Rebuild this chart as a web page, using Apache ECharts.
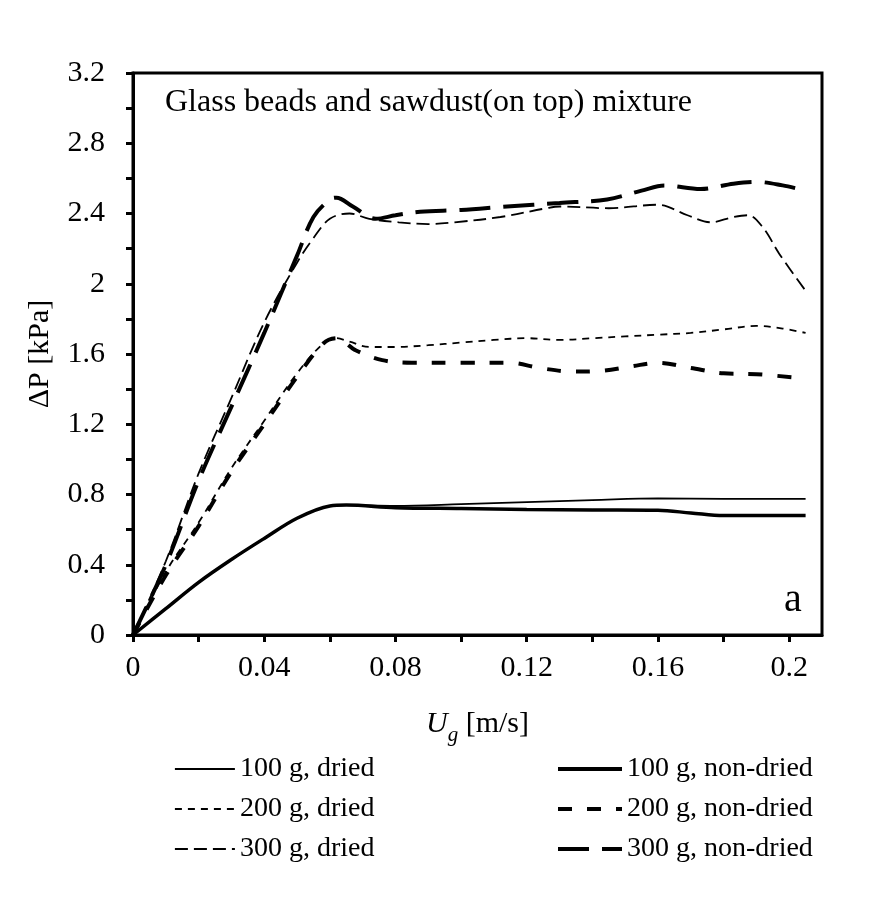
<!DOCTYPE html>
<html>
<head>
<meta charset="utf-8">
<script src="https://cdn.jsdelivr.net/npm/echarts@6/dist/echarts.min.js"></script>
<style>
  html, body { margin: 0; background: #fff; }
  #chart { width: 886px; height: 903px; }
</style>
</head>
<body>
<div id="chart"></div>
<script>
// superficial gas velocity Ug [m/s] and pressure drop dP [kPa], per run
const dried100U = [0, 0.01, 0.02, 0.03, 0.04, 0.05, 0.06, 0.065, 0.08, 0.10, 0.12, 0.14, 0.16, 0.18, 0.205];
const dried100P = [0, 0.15, 0.30, 0.43, 0.55, 0.665, 0.735, 0.74, 0.735, 0.745, 0.757, 0.768, 0.778, 0.775, 0.775];

const wet100U = [0, 0.01, 0.02, 0.03, 0.04, 0.05, 0.06, 0.065, 0.08, 0.10, 0.12, 0.14, 0.16, 0.17, 0.18, 0.205];
const wet100P = [0, 0.15, 0.30, 0.43, 0.55, 0.665, 0.735, 0.74, 0.725, 0.72, 0.715, 0.712, 0.71, 0.695, 0.68, 0.68];

const dried200U = [0, 0.01, 0.02, 0.03, 0.04, 0.05, 0.058, 0.062, 0.066, 0.072, 0.08, 0.09, 0.10, 0.11, 0.12, 0.13, 0.14, 0.15, 0.16, 0.17, 0.18, 0.19, 0.198, 0.205];
const dried200P = [0, 0.36, 0.64, 0.95, 1.22, 1.49, 1.66, 1.69, 1.67, 1.64, 1.64, 1.65, 1.665, 1.68, 1.69, 1.68, 1.69, 1.70, 1.71, 1.72, 1.74, 1.76, 1.745, 1.72];

const wet200U = [0, 0.01, 0.02, 0.03, 0.04, 0.05, 0.058, 0.062, 0.068, 0.076, 0.085, 0.10, 0.115, 0.124, 0.134, 0.143, 0.152, 0.16, 0.17, 0.18, 0.19, 0.205];
const wet200P = [0, 0.34, 0.62, 0.93, 1.20, 1.47, 1.66, 1.69, 1.62, 1.565, 1.55, 1.55, 1.55, 1.52, 1.50, 1.505, 1.53, 1.55, 1.52, 1.49, 1.485, 1.46];

const dried300U = [0, 0.01, 0.02, 0.03, 0.04, 0.05, 0.055, 0.06, 0.066, 0.072, 0.081, 0.09, 0.098, 0.112, 0.126, 0.13, 0.145, 0.16, 0.169, 0.176, 0.183, 0.1875, 0.192, 0.197, 0.205];
const dried300P = [0, 0.42, 0.92, 1.35, 1.78, 2.12, 2.26, 2.37, 2.40, 2.37, 2.35, 2.34, 2.35, 2.38, 2.43, 2.44, 2.43, 2.45, 2.39, 2.35, 2.38, 2.39, 2.32, 2.17, 1.96];

const wet300U = [0, 0.01, 0.02, 0.03, 0.04, 0.05, 0.055, 0.06, 0.062, 0.067, 0.074, 0.08, 0.0875, 0.10, 0.114, 0.13, 0.1445, 0.155, 0.162, 0.173, 0.183, 0.19, 0.198, 0.205];
const wet300P = [0, 0.40, 0.88, 1.30, 1.72, 2.16, 2.38, 2.48, 2.49, 2.44, 2.37, 2.39, 2.41, 2.42, 2.44, 2.46, 2.48, 2.53, 2.56, 2.54, 2.57, 2.58, 2.56, 2.53];

const uTicks = [0, 0.02, 0.04, 0.06, 0.08, 0.10, 0.12, 0.14, 0.16, 0.18, 0.20];
const uLabels = [0, 0.04, 0.08, 0.12, 0.16, 0.20];
const pTicks = [0, 0.2, 0.4, 0.6, 0.8, 1.0, 1.2, 1.4, 1.6, 1.8, 2.0, 2.2, 2.4, 2.6, 2.8, 3.0, 3.2];
const pLabels = [0, 0.4, 0.8, 1.2, 1.6, 2.0, 2.4, 2.8, 3.2];

const driedNames = ["100 g, dried", "200 g, dried", "300 g, dried"];
const wetNames = ["100 g, non-dried", "200 g, non-dried", "300 g, non-dried"];

const FONT = "'Liberation Serif', 'Times New Roman', serif";
const THIN = 1.8;
const THICK = 4;

function pairs(us, ps) {
  return us.map((u, i) => [u, ps[i]]);
}

function line(name, us, ps, width, dash) {
  return {
    name: name,
    type: "line",
    data: pairs(us, ps),
    symbol: "none",
    smooth: 0.35,
    lineStyle: { color: "#000", width: width, type: dash || "solid", cap: "butt" },
    itemStyle: { color: "#000" },
    z: 3
  };
}

const chart = echarts.init(document.getElementById("chart"));

const axisCommon = {
  axisLine: { lineStyle: { color: "#000", width: 3 } },
  splitLine: { show: false },
  axisTick: { length: 7, lineStyle: { color: "#000", width: 3 } }
};

// legend icons: line only, hide the circle marker ECharts adds for line series
const legendCommon = {
  orient: "vertical",
  top: 750,
  itemHeight: 14,
  itemGap: 12,
  itemStyle: { opacity: 0, borderWidth: 0 },
  textStyle: { fontFamily: FONT, fontSize: 28, color: "#000" }
};

chart.setOption({
  animation: false,
  backgroundColor: "#fff",
  grid: {
    left: 133, right: 64, top: 73, bottom: 268,
    show: true, borderColor: "#000", borderWidth: 3
  },
  xAxis: Object.assign({}, axisCommon, {
    type: "value",
    min: 0,
    max: 0.21,
    axisTick: Object.assign({}, axisCommon.axisTick, { customValues: uTicks }),
    axisLabel: {
      customValues: uLabels,
      fontFamily: FONT, fontSize: 30, color: "#000", margin: 18
    },
    name: "{i|U}{s|g}{n| [m/s]}",
    nameLocation: "middle",
    nameGap: 74,
    nameTextStyle: {
      color: "#000",
      rich: {
        i: { fontFamily: FONT, fontSize: 30, fontStyle: "italic", color: "#000", verticalAlign: "top" },
        s: { fontFamily: FONT, fontSize: 21, fontStyle: "italic", color: "#000", verticalAlign: "bottom", padding: [16, 0, 0, 0] },
        n: { fontFamily: FONT, fontSize: 30, color: "#000", verticalAlign: "top" }
      }
    }
  }),
  yAxis: Object.assign({}, axisCommon, {
    type: "value",
    min: 0,
    max: 3.2,
    axisTick: Object.assign({}, axisCommon.axisTick, { customValues: pTicks }),
    axisLabel: {
      customValues: pLabels,
      fontFamily: FONT, fontSize: 30, color: "#000", margin: 28
    },
    name: "ΔP [kPa]",
    nameLocation: "middle",
    nameRotate: 90,
    nameGap: 78,
    nameTextStyle: { fontFamily: FONT, fontSize: 30, color: "#000" }
  }),
  legend: [
    Object.assign({}, legendCommon, {
      data: driedNames.map((n) => ({ name: n, lineStyle: { width: THIN } })),
      left: 169, itemWidth: 60
    }),
    Object.assign({}, legendCommon, {
      data: wetNames.map((n) => ({ name: n, lineStyle: { width: THICK } })),
      left: 551, itemWidth: 64
    })
  ],
  graphic: [
    {
      type: "text", left: 165, top: 87,
      style: { text: "Glass beads and sawdust(on top) mixture", font: "32px " + FONT, fill: "#000" }
    },
    {
      type: "text", left: 784, top: 580,
      style: { text: "a", font: "40px " + FONT, fill: "#000" }
    }
  ],
  series: [
    line(driedNames[0], dried100U, dried100P, THIN),
    line(driedNames[1], dried200U, dried200P, THIN, [7, 6]),
    line(driedNames[2], dried300U, dried300P, THIN, [13, 6]),
    line(wetNames[0], wet100U, wet100P, 3.5),
    line(wetNames[1], wet200U, wet200P, THICK, [14, 15]),
    line(wetNames[2], wet300U, wet300P, THICK, [31, 13])
  ]
});
</script>
</body>
</html>
